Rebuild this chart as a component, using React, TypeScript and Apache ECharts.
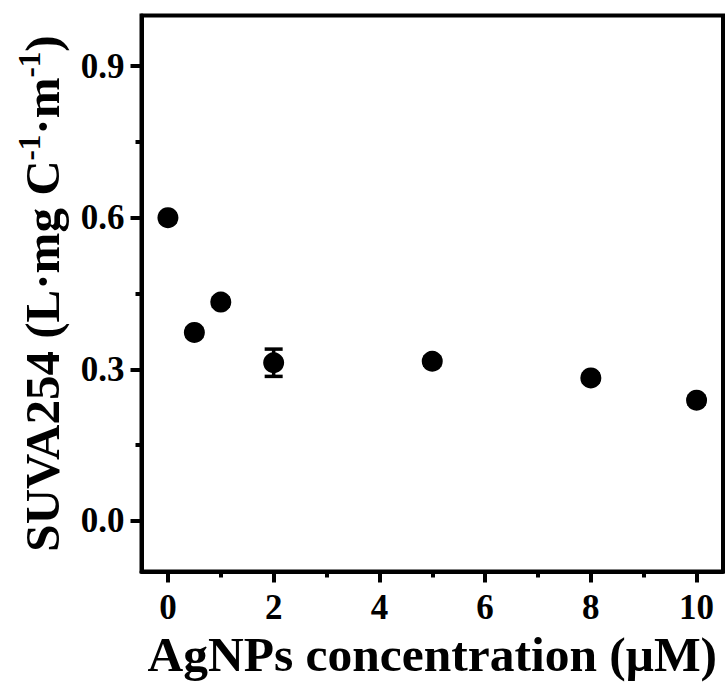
import React, { useEffect, useRef } from "react";
import * as echarts from "echarts";

const concentrations = [0, 0.5, 1, 2, 5, 8, 10];
const suva = [0.6, 0.373, 0.433, 0.313, 0.316, 0.283, 0.239];
const suvaErr = [0.008, 0.008, 0.008, 0.027, 0.008, 0.008, 0.008];
const xMajorTicks = [0, 2, 4, 6, 8, 10];
const xMinorTicks = [1, 3, 5, 7, 9];
const yMajorTicks = [0, 0.3, 0.6, 0.9];
const yMinorTicks = [0.15, 0.45, 0.75];

const FONT = "'Liberation Serif', 'Times New Roman', serif";

export default function App() {
  const ref = useRef<HTMLDivElement>(null);
  useEffect(() => {
    if (!ref.current) return;
    const chart = echarts.init(ref.current, null, { renderer: "svg" });
    const points = concentrations.map((x, i) => [x, suva[i]]);
    const errData = concentrations.map((x, i) => [x, suva[i], suvaErr[i]]);
    const axisCommonX = { type: "value", min: -0.5, max: 10.5, gridIndex: 0 };
    const axisCommonY = { type: "value", min: -0.1, max: 1.0, gridIndex: 0 };
    chart.setOption({
      animation: false,
      backgroundColor: "#fff",
      grid: {
        left: 141.5,
        right: 3,
        top: 15.5,
        bottom: 112.5,
        containLabel: false,
        outerBoundsMode: "none",
        show: true,
        borderColor: "#000",
        borderWidth: 4,
        backgroundColor: "transparent",
      },
      xAxis: [
        {
          ...axisCommonX,
          position: "bottom",
          axisLine: { show: true, onZero: false, lineStyle: { color: "#000", width: 4 } },
          axisTick: { show: true, length: 11, customValues: xMajorTicks, lineStyle: { color: "#000", width: 4 } },
          axisLabel: {
            customValues: xMajorTicks,
            margin: 18,
            color: "#000",
            fontFamily: FONT,
            fontWeight: "bold",
            fontSize: 35,
          },
          splitLine: { show: false },
          name: "AgNPs concentration (μM)",
          nameLocation: "middle",
          nameGap: 83,
          nameMoveOverlap: false,
          nameTextStyle: { color: "#000", fontFamily: FONT, fontWeight: "bold", fontSize: 49.5, verticalAlign: "middle" },
        },
        {
          ...axisCommonX,
          position: "bottom",
          axisLine: { show: false, onZero: false },
          axisTick: { show: true, length: 6, customValues: xMinorTicks, lineStyle: { color: "#000", width: 4 } },
          axisLabel: { show: false },
          splitLine: { show: false },
        },
      ],
      yAxis: [
        {
          ...axisCommonY,
          position: "left",
          axisLine: { show: true, onZero: false, lineStyle: { color: "#000", width: 4 } },
          axisTick: { show: true, length: 11, customValues: yMajorTicks, lineStyle: { color: "#000", width: 4 } },
          axisLabel: {
            customValues: yMajorTicks,
            margin: 17,
            color: "#000",
            fontFamily: FONT,
            fontWeight: "bold",
            fontSize: 35,
            formatter: (v: number) => v.toFixed(1),
          },
          splitLine: { show: false },
          name: "{a|SUVA254 (L·mg C}{sup|-1}{a|·m}{sup|-1}{a|)}",
          nameLocation: "middle",
          nameRotate: 90,
          nameGap: 75,
          nameMoveOverlap: false,
          nameTextStyle: {
            color: "#000",
            fontFamily: FONT,
            fontWeight: "bold",
            rich: {
              a: { fontFamily: FONT, fontWeight: "bold", fontSize: 49, color: "#000", lineHeight: 53, verticalAlign: "bottom" },
              sup: { fontFamily: FONT, fontWeight: "bold", fontSize: 31, color: "#000", lineHeight: 53, verticalAlign: "top" },
            },
          },
        },
        {
          ...axisCommonY,
          position: "left",
          axisLine: { show: false, onZero: false },
          axisTick: { show: true, length: 6, customValues: yMinorTicks, lineStyle: { color: "#000", width: 4 } },
          axisLabel: { show: false },
          splitLine: { show: false },
        },
      ],
      series: [
        {
          type: "custom",
          xAxisIndex: 0,
          yAxisIndex: 0,
          data: errData,
          z: 1,
          renderItem: (params: any, api: any) => {
            const x = api.value(0);
            const y = api.value(1);
            const e = api.value(2);
            const top = api.coord([x, y + e]);
            const bot = api.coord([x, y - e]);
            const hw = 9;
            const style = { stroke: "#000", lineWidth: 3.5 };
            return {
              type: "group",
              children: [
                { type: "line", shape: { x1: top[0], y1: top[1], x2: bot[0], y2: bot[1] }, style },
                { type: "line", shape: { x1: top[0] - hw, y1: top[1], x2: top[0] + hw, y2: top[1] }, style },
                { type: "line", shape: { x1: bot[0] - hw, y1: bot[1], x2: bot[0] + hw, y2: bot[1] }, style },
              ],
            };
          },
        },
        {
          type: "scatter",
          xAxisIndex: 0,
          yAxisIndex: 0,
          data: points,
          symbol: "circle",
          symbolSize: 21,
          itemStyle: { color: "#000", opacity: 1 },
          z: 2,
        },
      ],
    });
    return () => chart.dispose();
  }, []);
  return <div ref={ref} style={{ width: 726, height: 684, position: "absolute", left: 0, top: 0 }} />;
}
